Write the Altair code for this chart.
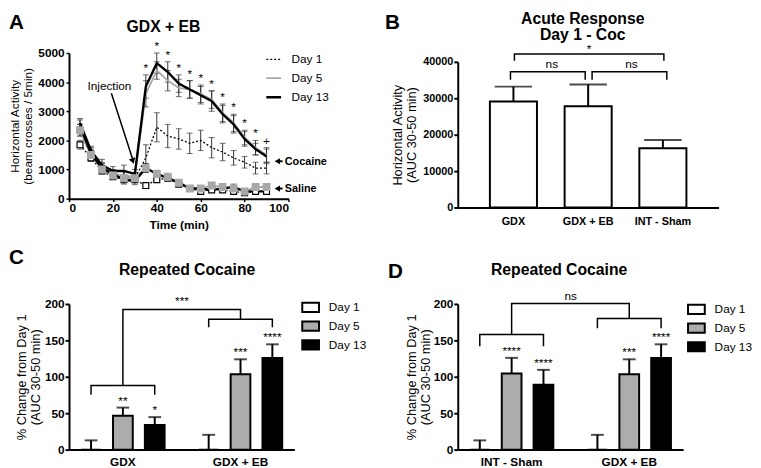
import altair as alt
import pandas as pd

FONT = "Liberation Sans"
DAYS = ["Day 1", "Day 5", "Day 13"]

# ---------------- Panel A: time course, GDX + EB ----------------
times = [5, 10, 15, 20, 25, 30, 35, 40, 45, 50, 55, 60, 65, 70, 75, 80, 85, 90]
coc_day1 = [2300, 1500, 1050, 850, 800, 700, 1400, 2450, 2150, 2050, 1900, 2000, 1750, 1600, 1400, 1250, 1050, 1050]
coc_day5 = [2400, 1600, 1100, 850, 800, 750, 3600, 4400, 4050, 3800, 3750, 3600, 3400, 2950, 2600, 2100, 1750, 1500]
coc_day13 = [2600, 1650, 1150, 950, 950, 850, 3850, 4650, 4350, 3950, 3750, 3550, 3350, 2900, 2550, 2050, 1700, 1450]
coc_day1_sem = [150, 150, 150, 150, 150, 150, 450, 500, 400, 350, 350, 350, 350, 300, 250, 200, 200, 200]
coc_day5_sem = [150, 150, 150, 150, 150, 150, 450, 300, 350, 300, 300, 300, 300, 300, 300, 250, 250, 250]
coc_day13_sem = [150, 150, 200, 150, 200, 150, 400, 350, 350, 300, 300, 300, 350, 300, 300, 250, 200, 250]
sal_day1 = [1850, 1400, 950, 750, 650, 650, 450, 650, 700, 500, 350, 250, 300, 300, 250, 200, 250, 250]
sal_day5 = [2350, 1500, 1000, 800, 700, 700, 1050, 850, 750, 550, 350, 350, 450, 400, 350, 250, 400, 400]
sal_day13 = [2500, 1550, 1050, 850, 650, 600, 1050, 850, 700, 550, 350, 350, 300, 350, 400, 250, 250, 250]
sal_day1_sem = [150, 120, 100, 80, 80, 80, 60, 80, 80, 60, 50, 50, 50, 50, 50, 40, 40, 40]
sal_day5_sem = [200, 150, 120, 100, 100, 100, 150, 120, 100, 80, 60, 60, 80, 60, 60, 50, 80, 80]
sal_day13_sem = [200, 150, 150, 100, 150, 120, 150, 120, 100, 80, 60, 80, 60, 60, 100, 50, 50, 50]
a_marks = ["*"] * 11 + ["+"]          # marks at 35 ... 90 min
a_x_ticks = [0, 20, 40, 60, 80, 100]
a_y_ticks = [0, 1000, 2000, 3000, 4000, 5000]

# ---------------- Panel B: acute response ----------------
groups_b = ["GDX", "GDX + EB", "INT - Sham"]
auc_mean = [29100, 27800, 16300]
auc_sem = [4100, 6000, 2250]
b_y_ticks = [0, 10000, 20000, 30000, 40000]
b_pair_low, b_pair_high = 35100, 37300
b_top_low, b_top_high = 40300, 42150
b_ns_y, b_star_y = 38400, 42400

# ---------------- Panels C and D: repeated cocaine ----------------
groups_c = ["GDX", "GDX + EB"]
c_mean = {"GDX": [0, 46.5, 33.8], "GDX + EB": [0, 103.6, 125.7]}
c_sem = {"GDX": [12.7, 11.2, 10.8], "GDX + EB": [20.3, 20.4, 18.9]}
c_stars = {"GDX": ["", "**", "*"], "GDX + EB": ["", "***", "****"]}
c_br_low = [75.3, 168]
c_br_high = [88, 179]
c_br_top = 192.4
c_top_label, c_top_y = "***", 199

groups_d = ["INT - Sham", "GDX + EB"]
d_mean = {"INT - Sham": [0, 104.5, 89], "GDX + EB": [0, 103.6, 125.7]}
d_sem = {"INT - Sham": [12.7, 21.5, 20.5], "GDX + EB": [20.3, 20.4, 18.9]}
d_stars = {"INT - Sham": ["", "****", "****"], "GDX + EB": ["", "***", "****"]}
d_br_low = [142, 166.7]
d_br_high = [158, 180]
d_br_top = 200.5
d_top_label, d_top_y = "ns", 206
cd_y_ticks = [0, 50, 100, 150, 200]


def label(txt, x, y, size, weight="bold", align="left"):
    return alt.Chart(pd.DataFrame({"t": [txt]})).mark_text(
        font=FONT, fontSize=size, fontWeight=weight, align=align,
        baseline="alphabetic", color="black"
    ).encode(text="t:N", x=alt.value(x), y=alt.value(y))


# ======================= Panel A =======================
rows = []
series = [("Cocaine", [coc_day1, coc_day5, coc_day13], [coc_day1_sem, coc_day5_sem, coc_day13_sem]),
          ("Saline", [sal_day1, sal_day5, sal_day13], [sal_day1_sem, sal_day5_sem, sal_day13_sem])]
for trt, means, sems in series:
    for d, m, s in zip(DAYS, means, sems):
        for t, v, e in zip(times, m, s):
            rows.append(dict(treatment=trt, day=d, time=t, value=v, sem=e))
dfA = pd.DataFrame(rows)
dfA["lo"] = dfA["value"] - dfA["sem"]
dfA["hi"] = dfA["value"] + dfA["sem"]

xA = alt.Scale(domain=[0, 100], nice=False)
yA = alt.Scale(domain=[0, 5000], nice=False)
axXA = alt.Axis(values=a_x_ticks, title="Time (min)", titleFontWeight="bold", titleFontSize=12,
                labelFontSize=12, tickSize=3, labelPadding=1, titlePadding=6, tickWidth=1.5,
                format="d", labelOverlap=False)
axYA = alt.Axis(values=a_y_ticks, title=["Horizontal Activity", "(beam crosses / 5min)"],
                titleFontSize=12, titleAngle=270, titleX=-48.5, titleBaseline="bottom",
                titleAlign="center", titleLineHeight=13, labelFontSize=12, tickSize=3,
                labelPadding=2, tickWidth=1.5, format="d", labelOverlap=False)
baseA = alt.Chart(dfA)

errA = baseA.mark_rule(color="#333333", strokeWidth=1).encode(
    x=alt.X("time:Q", scale=xA, axis=axXA),
    y=alt.Y("lo:Q", scale=yA, axis=axYA),
    y2="hi:Q",
)
capHiA = baseA.mark_tick(color="#333333", orient="horizontal", size=6, thickness=1).encode(
    x=alt.X("time:Q", scale=xA, axis=axXA), y=alt.Y("hi:Q", scale=yA, axis=axYA))
capLoA = baseA.mark_tick(color="#333333", orient="horizontal", size=6, thickness=1).encode(
    x=alt.X("time:Q", scale=xA, axis=axXA), y=alt.Y("lo:Q", scale=yA, axis=axYA))

legA = alt.Legend(title=None, orient="none", legendX=199, legendY=-2, symbolType="stroke",
                  symbolSize=225, labelFontSize=12, labelFont=FONT, labelOffset=9,
                  rowPadding=4, padding=0)
linesA = baseA.mark_line().encode(
    x=alt.X("time:Q", scale=xA, axis=axXA),
    y=alt.Y("value:Q", scale=yA, axis=axYA),
    color=alt.Color("day:N", sort=DAYS, scale=alt.Scale(domain=DAYS, range=["#000000", "#a8a8a8", "#000000"]), legend=legA),
    strokeDash=alt.StrokeDash("day:N", sort=DAYS, scale=alt.Scale(domain=DAYS, range=[[2, 2], [1, 0], [1, 0]]), legend=legA),
    strokeWidth=alt.StrokeWidth("day:N", sort=DAYS, scale=alt.Scale(domain=DAYS, range=[1.3, 2.4, 1.7]), legend=legA),
    detail="treatment:N",
)
sq1 = baseA.transform_filter("datum.treatment == 'Saline' && datum.day == 'Day 1'").mark_square(
    size=36, fill="white", stroke="black", strokeWidth=1.2, opacity=1).encode(
    x=alt.X("time:Q", scale=xA, axis=axXA), y=alt.Y("value:Q", scale=yA, axis=axYA))
sq5 = baseA.transform_filter("datum.treatment == 'Saline' && datum.day == 'Day 5'").mark_square(
    size=36, fill="#a8a8a8", stroke="#a8a8a8", opacity=1).encode(
    x=alt.X("time:Q", scale=xA, axis=axXA), y=alt.Y("value:Q", scale=yA, axis=axYA))

topA = dfA[dfA.treatment == "Cocaine"].groupby("time", as_index=False)["hi"].max()
topA = topA[topA.time >= 35].reset_index(drop=True)
topA["txt"] = a_marks
starsA = alt.Chart(topA).mark_text(font=FONT, fontSize=12, baseline="alphabetic", dy=-3, color="black").encode(
    x=alt.X("time:Q", scale=xA, axis=axXA), y=alt.Y("hi:Q", scale=yA, axis=axYA), text="txt:N")

inj_text = alt.Chart(pd.DataFrame({"time": [18.4], "v": [3716], "t": ["Injection"]})).mark_text(
    font=FONT, fontSize=12, baseline="alphabetic", color="black").encode(
    x=alt.X("time:Q", scale=xA, axis=axXA), y=alt.Y("v:Q", scale=yA, axis=axYA), text="t:N")
inj_rule = alt.Chart(pd.DataFrame({"time": [19.3], "v": [3615], "time2": [28.9], "v2": [1380]})).mark_rule(
    color="black", strokeWidth=1.5).encode(
    x=alt.X("time:Q", scale=xA, axis=axXA), y=alt.Y("v:Q", scale=yA, axis=axYA), x2="time2:Q", y2="v2:Q")
inj_head = alt.Chart(pd.DataFrame({"time": [29.1], "v": [1290]})).mark_point(
    shape="triangle-down", filled=True, size=45, angle=342, color="black", opacity=1).encode(
    x=alt.X("time:Q", scale=xA, axis=axXA), y=alt.Y("v:Q", scale=yA, axis=axYA))
side = pd.DataFrame({"time": [94.9, 94.9], "time2": [97.3, 97.3], "v": [1284, 348],
                     "vt": [1148, 213], "tx": [98.3, 98.3], "t": ["Cocaine", "Saline"]})
side_rule = alt.Chart(side).mark_rule(color="black", strokeWidth=2).encode(
    x=alt.X("time:Q", scale=xA, axis=axXA), x2="time2:Q", y=alt.Y("v:Q", scale=yA, axis=axYA))
side_head = alt.Chart(side).mark_point(shape="triangle-left", filled=True, size=40, color="black", opacity=1).encode(
    x=alt.X("time:Q", scale=xA, axis=axXA), y=alt.Y("v:Q", scale=yA, axis=axYA))
side_text = alt.Chart(side).mark_text(font=FONT, fontSize=11, fontWeight="bold", align="left",
                                      baseline="alphabetic", color="black").encode(
    x=alt.X("tx:Q", scale=xA, axis=axXA), y=alt.Y("vt:Q", scale=yA, axis=axYA), text="t:N")

panelA = alt.layer(
    errA, capHiA, capLoA, linesA, sq1, sq5, starsA, inj_text, inj_rule, inj_head,
    side_rule, side_head, side_text,
    label("A", -61, -24, 21), label("GDX + EB", 96, -21, 16, align="center"),
).properties(width=223, height=148)

# ======================= Panel B =======================
dfB = pd.DataFrame({"group": groups_b, "value": auc_mean, "sem": auc_sem})
dfB["hi"] = dfB["value"] + dfB["sem"]
xB = alt.Scale(domain=groups_b, paddingInner=0.37, paddingOuter=0.43)
yB = alt.Scale(domain=[0, 40000], range=[157, 9], nice=False)
axXB = alt.Axis(title=None, ticks=False, labelAngle=0, labelFontSize=11, labelPadding=8)
axYB = alt.Axis(values=b_y_ticks, title=["Horizontal Activity", "(AUC 30-50 min)"], titleFontSize=13,
                titleAngle=270, titleX=-54, titleBaseline="bottom", titleAlign="center",
                titleLineHeight=14, labelFontSize=11, tickSize=4, labelPadding=1,
                format="d", labelOverlap=False)
baseB = alt.Chart(dfB)
barsB = baseB.mark_bar(fill="white", stroke="black", strokeWidth=2).encode(
    x=alt.X("group:N", sort=groups_b, scale=xB, axis=axXB),
    y=alt.Y("value:Q", scale=yB, axis=axYB),
)
errB = baseB.mark_rule(color="black", strokeWidth=2).encode(
    x=alt.X("group:N", sort=groups_b, scale=xB, axis=axXB), y=alt.Y("value:Q", scale=yB, axis=axYB), y2="hi:Q")
capB = baseB.mark_tick(color="black", orient="horizontal", size=38, thickness=2).encode(
    x=alt.X("group:N", sort=groups_b, scale=xB, axis=axXB), y=alt.Y("hi:Q", scale=yB, axis=axYB))


def bracket_b(g1, g2, low, high, xoff):
    d = pd.DataFrame({"idx": [0, 1, 2, 3], "group": [g1, g1, g2, g2], "v": [low, high, high, low]})
    return alt.Chart(d).mark_line(color="black", strokeWidth=1.5, xOffset=xoff).encode(
        x=alt.X("group:N", sort=groups_b, scale=xB, axis=axXB), y=alt.Y("v:Q", scale=yB, axis=axYB), order="idx:Q")


def text_b(grp, txt, yv, dx):
    d = pd.DataFrame({"group": [grp], "v": [yv], "t": [txt]})
    return alt.Chart(d).mark_text(font=FONT, fontSize=12, baseline="alphabetic", dx=dx, color="black").encode(
        x=alt.X("group:N", sort=groups_b, scale=xB, axis=axXB), y=alt.Y("v:Q", scale=yB, axis=axYB), text="t:N")


panelB = alt.layer(
    barsB, errB, capB,
    bracket_b("GDX", "INT - Sham", b_top_low, b_top_high, 1),
    bracket_b("GDX", "GDX + EB", b_pair_low, b_pair_high, -3),
    bracket_b("GDX + EB", "INT - Sham", b_pair_low, b_pair_high, 4),
    text_b("GDX", "ns", b_ns_y, 39), text_b("GDX + EB", "ns", b_ns_y, 44),
    text_b("GDX + EB", "*", b_star_y, 1),
    label("B", -74, -24, 21),
    label("Acute Response", 127, -29, 16, align="center"),
    label("Day 1 - Coc", 127, -13, 16, align="center"),
).properties(width=265, height=157)


# ======================= Panels C / D =======================
def panel_cd(groups, means, sems, stars, br_low, br_high, br_top, top_label, top_y,
             letter, letter_x, letter_y, title_x, leg_x, leg_y, title_off):
    rows = []
    for g in groups:
        for d, m, s, st in zip(DAYS, means[g], sems[g], stars[g]):
            rows.append(dict(group=g, day=d, value=m, hi=m + s, star=st))
    df = pd.DataFrame(rows)
    xs = alt.Scale(domain=groups, paddingInner=0.188, paddingOuter=0.052)
    xo = alt.Scale(domain=DAYS, paddingInner=0.38, paddingOuter=0.19)
    ys = alt.Scale(domain=[0, 200], nice=False)
    axX = alt.Axis(title=None, ticks=False, labelAngle=0, labelFontSize=12, labelPadding=7)
    axY = alt.Axis(values=cd_y_ticks, title=["% Change from Day 1", "(AUC 30-50 min)"], titleFontSize=13,
                   titleAngle=270, titleX=title_off, titleBaseline="bottom", titleAlign="center",
                   titleLineHeight=14, labelFontSize=12, tickSize=4, labelPadding=1,
                   format="d", labelOverlap=False)
    X = alt.X("group:N", sort=groups, scale=xs, axis=axX)
    XO = alt.XOffset("day:N", sort=DAYS, scale=xo)
    base = alt.Chart(df)
    leg = alt.Legend(title=None, orient="none", legendX=leg_x, legendY=leg_y,
                     symbolType="M-1,-0.55H1V0.55H-1Z", symbolSize=289,
                     symbolStrokeColor="black", symbolStrokeWidth=2, labelFontSize=12,
                     labelFont=FONT, labelOffset=9, rowPadding=0, padding=0)
    bars = base.mark_bar(stroke="black", strokeWidth=2).encode(
        x=X, xOffset=XO,
        y=alt.Y("value:Q", scale=ys, axis=axY),
        fill=alt.Fill("day:N", sort=DAYS, scale=alt.Scale(domain=DAYS, range=["white", "#acacac", "black"]), legend=leg),
    )
    err = base.mark_rule(color="black", strokeWidth=2).encode(
        x=X, xOffset=XO, y=alt.Y("value:Q", scale=ys, axis=axY), y2="hi:Q")
    cap = base.mark_tick(color="black", orient="horizontal", size=13, thickness=2).encode(
        x=X, xOffset=XO, y=alt.Y("hi:Q", scale=ys, axis=axY))
    st = base.transform_filter("datum.star != ''").mark_text(
        font=FONT, fontSize=12, baseline="alphabetic", dy=-3, color="black").encode(
        x=X, xOffset=XO, y=alt.Y("hi:Q", scale=ys, axis=axY), text="star:N")
    br_rows = []
    for i, g in enumerate(groups):
        pts = [("Day 1", br_low[i]), ("Day 1", br_high[i]), ("Day 13", br_high[i]), ("Day 13", br_low[i])]
        for k, (d, v) in enumerate(pts):
            br_rows.append(dict(b=g, idx=k, group=g, day=d, v=v))
    pts = [(groups[0], br_high[0]), (groups[0], br_top), (groups[1], br_top), (groups[1], br_high[1])]
    for k, (g, v) in enumerate(pts):
        br_rows.append(dict(b="top", idx=k, group=g, day="Day 5", v=v))
    brk = alt.Chart(pd.DataFrame(br_rows)).mark_line(color="black", strokeWidth=1.5).encode(
        x=X, xOffset=XO, y=alt.Y("v:Q", scale=ys, axis=axY), detail="b:N", order="idx:Q")
    top = alt.Chart(pd.DataFrame({"group": [groups[0]], "day": ["Day 5"], "v": [top_y], "t": [top_label]})).mark_text(
        font=FONT, fontSize=12, baseline="alphabetic", dx=60, color="black").encode(
        x=X, xOffset=XO, y=alt.Y("v:Q", scale=ys, axis=axY), text="t:N")
    return alt.layer(
        bars, err, cap, brk, st, top,
        label(letter, letter_x, letter_y, 21),
        label("Repeated Cocaine", title_x, -29, 16, align="center"),
    ).properties(width=229, height=148)


panelC = panel_cd(groups_c, c_mean, c_sem, c_stars, c_br_low, c_br_high, c_br_top, c_top_label, c_top_y,
                  "C", -61, -41, 120, 236, -6, -41)
panelD = panel_cd(groups_d, d_mean, d_sem, d_stars, d_br_low, d_br_high, d_br_top, d_top_label, d_top_y,
                  "D", -71, -26, 103, 233, -4, -39.5)

ind = dict(color="independent", fill="independent", strokeDash="independent", strokeWidth="independent")
chart = alt.concat(
    panelA, panelB, panelC, panelD, columns=2, bounds="flush",
    spacing={"row": 98, "column": 166},
).resolve_scale(**ind).properties(
    padding=0
).configure(font=FONT).configure_view(stroke=None).configure_axis(
    domainColor="black", domainWidth=2, tickColor="black", tickWidth=2, labelColor="black",
    titleColor="black", labelFont=FONT, titleFont=FONT, labelFontWeight="bold",
    titleFontWeight="normal", grid=False, labelOverlap=False,
)

chart.save("out.html", embed_options={"renderer": "svg", "actions": False})
